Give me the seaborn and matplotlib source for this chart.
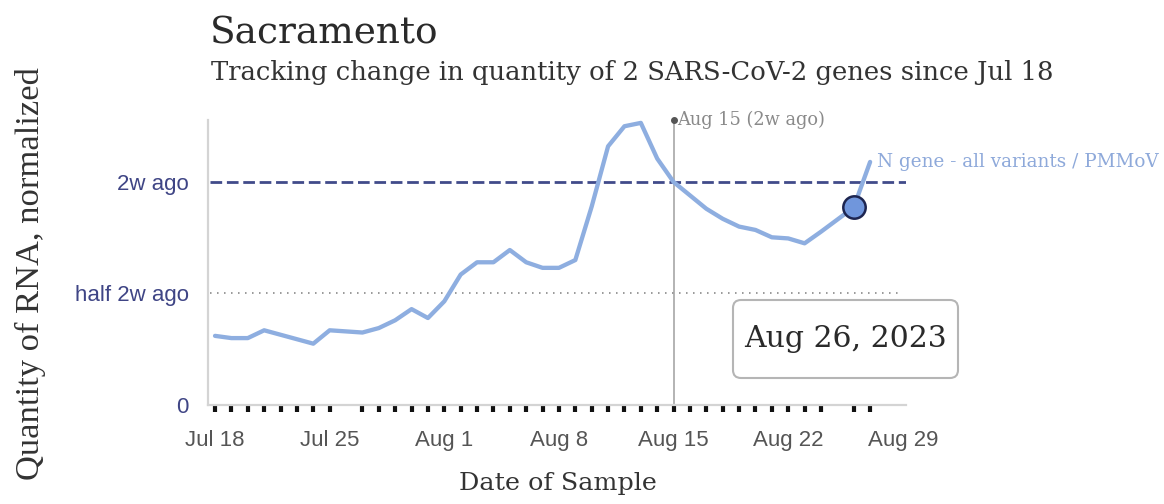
import matplotlib
matplotlib.use('Agg')
import matplotlib.pyplot as plt
import matplotlib.transforms as mtransforms
from matplotlib.patches import FancyBboxPatch
import pandas as pd
import seaborn as sns

# samples (no sample on Jul 26 and Aug 25)
sample_dates = ['2023-07-18', '2023-07-19', '2023-07-20', '2023-07-21', '2023-07-22',
                '2023-07-23', '2023-07-24', '2023-07-25', '2023-07-27', '2023-07-28',
                '2023-07-29', '2023-07-30', '2023-07-31', '2023-08-01', '2023-08-02',
                '2023-08-03', '2023-08-04', '2023-08-05', '2023-08-06', '2023-08-07',
                '2023-08-08', '2023-08-09', '2023-08-10', '2023-08-11', '2023-08-12',
                '2023-08-13', '2023-08-14', '2023-08-15', '2023-08-16', '2023-08-17',
                '2023-08-18', '2023-08-19', '2023-08-20', '2023-08-21', '2023-08-22',
                '2023-08-23', '2023-08-24', '2023-08-26', '2023-08-27']
n_gene = [0.31, 0.30, 0.30, 0.335, 0.315, 0.295, 0.275, 0.335, 0.325, 0.345,
          0.38, 0.43, 0.39, 0.465, 0.585, 0.64, 0.64, 0.695, 0.64, 0.615,
          0.615, 0.65, 0.89, 1.16, 1.25, 1.265, 1.105, 1.0, 0.94, 0.88,
          0.835, 0.80, 0.785, 0.752, 0.747, 0.725, 0.777, 0.886, 1.09]

tick_dates = ['2023-07-18', '2023-07-25', '2023-08-01', '2023-08-08',
              '2023-08-15', '2023-08-22', '2023-08-29']
tick_labels = ['Jul 18', 'Jul 25', 'Aug 1', 'Aug 8', 'Aug 15', 'Aug 22', 'Aug 29']
ref_date = '2023-08-15'
sel_date = '2023-08-26'
series_name = 'N gene - all variants / PMMoV'

df = pd.DataFrame({'date': pd.to_datetime(sample_dates), 'rna': n_gene})
ref_level = df.loc[df['date'] == pd.Timestamp(ref_date), 'rna'].iloc[0]
sel = df[df['date'] == pd.Timestamp(sel_date)]

sns.set_style('white')
serif = ['DejaVu Serif']
narrow = ['Liberation Sans Narrow', 'Liberation Sans', 'DejaVu Sans']

fig = plt.figure(figsize=(11.64, 5.04), dpi=100)
ax = fig.add_axes([208 / 1164, 99 / 504, 698 / 1164, 285 / 504])

line_col = '#8eaee0'
sns.lineplot(data=df, x='date', y='rna', color=line_col, linewidth=3.1, ax=ax,
             solid_joinstyle='round', solid_capstyle='round', zorder=4)
sns.scatterplot(data=sel, x='date', y='rna', s=260, color='#7096dc',
                edgecolor='#1d2550', linewidth=1.8, ax=ax, zorder=6)
sns.rugplot(x=df['date'], height=-0.026, color='#111111', linewidth=3.0,
            clip_on=False, expand_margins=False, ax=ax)

top = 1.278 * ref_level
x0 = pd.Timestamp('2023-07-18') - pd.Timedelta(hours=10.3)
x1 = pd.Timestamp('2023-08-29') + pd.Timedelta(hours=4.6)
ax.set_xlim(x0, x1)
ax.set_ylim(0, top)

# reference lines
ax.axhline(ref_level, xmin=0.003, xmax=1.0, color='#414b8a', lw=2,
           linestyle=(0, (4.2, 1.7)), zorder=3)
ax.axhline(ref_level / 2, xmin=0.003, xmax=0.991, color='#9a9a9a', lw=1.4,
           linestyle=(0, (0.8, 2.8)), zorder=3)
ax.axvline(pd.Timestamp(ref_date), color='#b3b3b3', lw=1.4, zorder=2)
ax.plot([pd.Timestamp(ref_date)], [top], 'o', color='#555555', ms=4, clip_on=False)
ax.text(pd.Timestamp(ref_date) + pd.Timedelta(hours=5), top, 'Aug 15 (2w ago)',
        va='center', ha='left', color='#8a8a8a', fontsize=12.8, family=serif)

last = df.iloc[-1]
ax.text(last['date'] + pd.Timedelta(hours=10), last['rna'], series_name,
        va='center', ha='left', color='#8ea9da', fontsize=13.2, family=serif)

# axes styling
ax.set_xticks(pd.to_datetime(tick_dates))
ax.set_xticklabels(tick_labels, family=narrow, fontsize=16, color='#555555')
ax.set_yticks([0, ref_level / 2, ref_level, top])
ax.set_yticklabels(['0', 'half 2w ago', '2w ago', ''], family=narrow,
                   fontsize=16, color='#3f4585')
ax.tick_params(axis='x', length=14, width=1.2, color='#d0d0d0', pad=4)
ax.tick_params(axis='y', length=11, width=1.2, color='#c0c0c0', pad=3)
sns.despine(ax=ax)
for side in ['left', 'bottom']:
    ax.spines[side].set_color('#d4d4d4')
    ax.spines[side].set_linewidth(1.6)
ax.set_xlabel('')
ax.set_ylabel('')

# titles and axis names
fig.text(210 / 1164, 1 - 44 / 504, 'Sacramento', fontsize=27, family=serif,
         color='#2a2a2a', va='baseline')
fig.text(211 / 1164, 1 - 80 / 504,
         'Tracking change in quantity of 2 SARS-CoV-2 genes since Jul 18',
         fontsize=18.6, family=serif, color='#333333', va='baseline')
fig.text(30 / 1164, 1 - 274 / 504, 'Quantity of RNA, normalized', rotation=90,
         fontsize=24.8, family=['Liberation Serif'], color='#333333',
         ha='center', va='center')
fig.text(558 / 1164, 1 - 490 / 504, 'Date of Sample', fontsize=18.3, family=serif,
         color='#333333', ha='center', va='baseline')

# selected date box
box = FancyBboxPatch((733, 504 - 378), 225, 78,
                     boxstyle='round,pad=0,rounding_size=8',
                     transform=mtransforms.IdentityTransform(),
                     facecolor='white', edgecolor='#b5b5b5', linewidth=1.5)
fig.add_artist(box)
fig.text(845 / 1164, 1 - 339 / 504, 'Aug 26, 2023', fontsize=21.5, family=serif,
         color='#2a2a2a', ha='center', va='center')

fig.savefig('out.png', dpi=100, facecolor='white')
